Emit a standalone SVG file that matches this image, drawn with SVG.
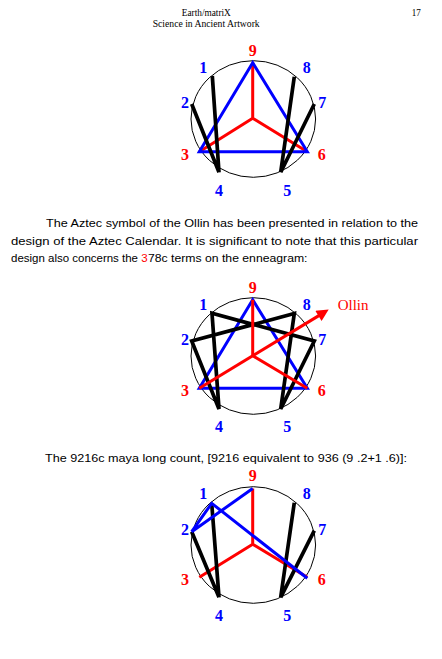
<svg xmlns="http://www.w3.org/2000/svg" width="442" height="659" viewBox="0 0 442 659">
<style>
.hd{font-family:"Liberation Serif",serif;font-size:10px;fill:#000}
.bd{font-family:"Liberation Sans",Arial,sans-serif;font-size:11.5px;fill:#000}
.lb{font-family:"Liberation Serif",serif;font-size:16px;font-weight:bold;text-anchor:middle}
.bl{fill:#0000ff}.rd{fill:#ff0000}
.ring{fill:none;stroke:#000;stroke-width:1}
.r{stroke:#ff0000;stroke-width:3;fill:none;stroke-linecap:butt}
.b{stroke:#0000ff;stroke-width:3;fill:none;stroke-linejoin:miter}
.k{stroke:#000;stroke-width:3.7;fill:none}
</style>
<defs>
<marker id="ah" viewBox="0 0 10 10" refX="2" refY="5" markerWidth="4.5" markerHeight="4" orient="auto" markerUnits="strokeWidth">
<path d="M0,0 L10,5 L0,10 z" fill="#ff0000"/>
</marker>
</defs>
<rect width="442" height="659" fill="#fff"/>
<g id="header">
<text class="hd" x="206.3" y="16" text-anchor="middle" textLength="49" lengthAdjust="spacingAndGlyphs">Earth/matriX</text>
<text class="hd" x="152.7" y="27" textLength="107" lengthAdjust="spacingAndGlyphs">Science in Ancient Artwork</text>
<text class="hd" x="411.7" y="16" textLength="9" lengthAdjust="spacingAndGlyphs">17</text>
</g>
<g id="paragraph">
<text class="bd" x="46" y="227" textLength="372" lengthAdjust="spacingAndGlyphs">The Aztec symbol of the Ollin has been presented in relation to the</text>
<text class="bd" x="11" y="244.5" textLength="407" lengthAdjust="spacingAndGlyphs">design of the Aztec Calendar. It is significant to note that this particular</text>
<text class="bd" x="11" y="262" textLength="127" lengthAdjust="spacingAndGlyphs">design also concerns the</text>
<text class="bd" x="141.3" y="262" style="fill:#ff0000">3</text>
<text class="bd" x="148" y="262" textLength="159.5" lengthAdjust="spacingAndGlyphs">78c terms on the enneagram:</text>
<text class="bd" x="45" y="462" textLength="362" lengthAdjust="spacingAndGlyphs">The 9216c maya long count, [9216 equivalent to 936 (9 .2+1 .6)]:</text>
</g>

<!-- Diagram 1 -->
<g id="diagram1">
<ellipse id="d1-ring" class="ring" cx="253.3" cy="119" rx="62.3" ry="58.3"/>
<g id="d1-connectors">
<path class="r" d="M252.7,62.7 V118.3 M252.7,118.3 L199.3,151.7 M252.7,118.3 L307.3,151.7"/>
<path class="b" d="M252.7,62.7 L199.3,151.7 L307.3,151.7 Z"/>
<path class="k" d="M212.3,76 L219,172.3 M191.7,104 L219,172.3 M294.3,76.7 L280.7,172.3 M314.3,104 L280.7,172.3"/>
</g>
<g id="d1-n9"><text class="lb rd" x="252.7" y="56">9</text></g>
<g id="d1-n1"><text class="lb bl" x="203.3" y="73.3">1</text></g>
<g id="d1-n8"><text class="lb bl" x="306.7" y="73.3">8</text></g>
<g id="d1-n2"><text class="lb bl" x="185" y="108.3">2</text></g>
<g id="d1-n7"><text class="lb bl" x="322.3" y="108.3">7</text></g>
<g id="d1-n3"><text class="lb rd" x="185" y="159.5">3</text></g>
<g id="d1-n6"><text class="lb rd" x="321.7" y="159.5">6</text></g>
<g id="d1-n4"><text class="lb bl" x="219" y="196">4</text></g>
<g id="d1-n5"><text class="lb bl" x="287.3" y="196">5</text></g>
</g>

<!-- Diagram 2 -->
<g id="diagram2">
<ellipse id="d2-ring" class="ring" cx="253.3" cy="356" rx="62.3" ry="58.3"/>
<g id="d2-connectors">
<path class="b" d="M252.7,299.7 L199.3,388.3 L307.3,388.3 Z"/>
<path class="k" d="M212,313.3 L219,409 L191.7,341 L294.3,313.5 L280.7,409 L314.3,341 Z"/>
<path class="r" d="M252.7,299.7 V355.7 M252.7,355.7 L307.3,388.3"/>
<path class="r" d="M199.3,388.3 L320.5,314.6" marker-end="url(#ah)"/>
</g>
<g id="d2-n9"><text class="lb rd" x="252.7" y="292.5">9</text></g>
<g id="d2-n1"><text class="lb bl" x="203.3" y="310.3">1</text></g>
<g id="d2-n8"><text class="lb bl" x="306.7" y="310.3">8</text></g>
<g id="d2-n2"><text class="lb bl" x="185" y="345.3">2</text></g>
<g id="d2-n7"><text class="lb bl" x="322.3" y="345.3">7</text></g>
<g id="d2-n3"><text class="lb rd" x="185" y="395.5">3</text></g>
<g id="d2-n6"><text class="lb rd" x="321.7" y="395.5">6</text></g>
<g id="d2-n4"><text class="lb bl" x="219" y="432">4</text></g>
<g id="d2-n5"><text class="lb bl" x="287.3" y="432">5</text></g>
<g id="d2-ollin"><text x="337.7" y="309.5" font-family="Liberation Serif, serif" font-size="15" fill="#ff0000">Ollin</text></g>
</g>

<!-- Diagram 3 -->
<g id="diagram3">
<ellipse id="d3-ring" class="ring" cx="253.3" cy="545" rx="62.3" ry="58.3"/>
<g id="d3-connectors">
<path class="r" d="M252.7,488.5 V544.3 M252.7,544.3 L199.3,577.3 M252.7,544.3 L307.3,577.3"/>
<path class="k" d="M211.7,503.3 L219,597.3 M191.7,531.7 L219,597.3 M294.3,502.7 L280.7,597.3 M314.3,530.7 L280.7,597.3"/>
<path class="b" d="M252.7,488.5 L191.7,531.7 L211.7,503.3 L307.3,578.3"/>
</g>
<g id="d3-n9"><text class="lb rd" x="252.7" y="480.5">9</text></g>
<g id="d3-n1"><text class="lb bl" x="203.3" y="499">1</text></g>
<g id="d3-n8"><text class="lb bl" x="306.7" y="499">8</text></g>
<g id="d3-n2"><text class="lb bl" x="185" y="535">2</text></g>
<g id="d3-n7"><text class="lb bl" x="322.3" y="535">7</text></g>
<g id="d3-n3"><text class="lb rd" x="185" y="585">3</text></g>
<g id="d3-n6"><text class="lb rd" x="321.7" y="585">6</text></g>
<g id="d3-n4"><text class="lb bl" x="219" y="620.7">4</text></g>
<g id="d3-n5"><text class="lb bl" x="287.3" y="620.7">5</text></g>
</g>
</svg>
